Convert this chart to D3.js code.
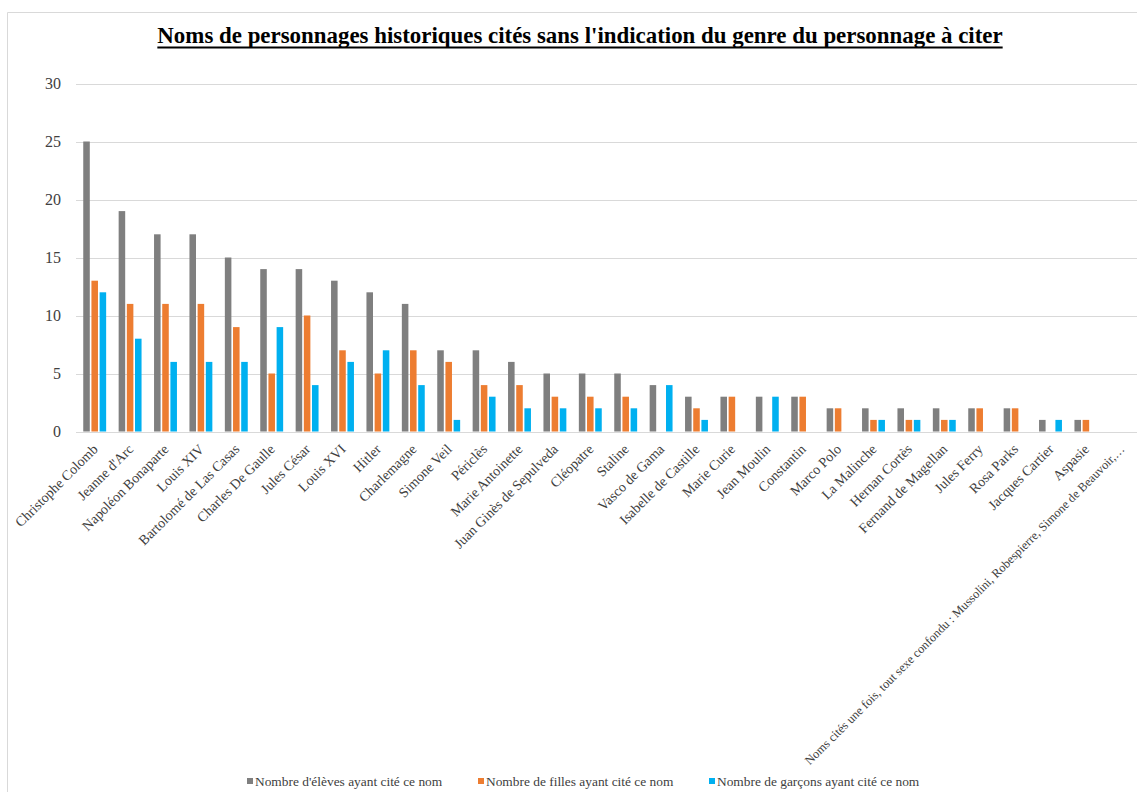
<!DOCTYPE html>
<html>
<head>
<meta charset="utf-8">
<script src="https://cdn.jsdelivr.net/npm/d3@7"></script>
<style>
  html, body { margin: 0; padding: 0; background: #fff; }
  svg { display: block; font-family: "Liberation Serif", "Times New Roman", serif; }
</style>
</head>
<body>
<svg id="chart" width="1137" height="792"></svg>
<script>
const categories = [
  "Christophe Colomb", "Jeanne d'Arc", "Napoléon Bonaparte", "Louis XIV",
  "Bartolomé de Las Casas", "Charles De Gaulle", "Jules César", "Louis XVI",
  "Hitler", "Charlemagne", "Simone Veil", "Périclès", "Marie Antoinette",
  "Juan Ginès de Sepulveda", "Cléopatre", "Staline", "Vasco de Gama",
  "Isabelle de Castille", "Marie Curie", "Jean Moulin", "Constantin",
  "Marco Polo", "La Malinche", "Hernan Cortès", "Fernand de Magellan",
  "Jules Ferry", "Rosa Parks", "Jacques Cartier", "Aspasie",
  "Noms cités une fois, tout sexe confondu : Mussolini, Robespierre, Simone de Beauvoir,…"
];
const seriesNames = [
  "Nombre d'élèves ayant cité ce nom",
  "Nombre de filles ayant cité ce nom",
  "Nombre de garçons ayant cité ce nom"
];
const eleves   = [25,19,17,17,15,14,14,13,12,11,7,7,6,5,5,5,4,3,3,3,3,2,2,2,2,2,2,1,1,0];
const filles   = [13,11,11,11,9,5,10,7,5,7,6,4,4,3,3,3,0,2,3,0,3,2,1,1,1,2,2,0,1,0];
const garcons  = [12,8,6,6,6,9,4,6,7,4,1,3,2,2,2,2,4,1,0,3,0,0,1,1,1,0,0,1,0,0];
const yTicks = [0,5,10,15,20,25,30];
const colors = ["#7f7f7f", "#ed7d31", "#00b0f0"];

const seriesValues = [eleves, filles, garcons];
const svg = d3.select("#chart");

// chart area border
svg.append("path")
  .attr("d", "M7.5,800 L7.5,12.5 L1140,12.5")
  .attr("fill", "none").attr("stroke", "#d9d9d9").attr("stroke-width", 1);

// title
const title = svg.append("text")
  .attr("x", 580).attr("y", 43)
  .attr("text-anchor", "middle")
  .attr("font-size", 22.9).attr("font-weight", "bold")
  .attr("fill", "#000")
  .text("Noms de personnages historiques cités sans l'indication du genre du personnage à citer");
const tw = title.node().getComputedTextLength();
svg.append("line")
  .attr("x1", 580 - tw / 2).attr("x2", 580 + tw / 2)
  .attr("y1", 47.5).attr("y2", 47.5)
  .attr("stroke", "#000").attr("stroke-width", 1.8);

const x0 = d3.scaleBand().domain(categories).range([77, 1139])
  .paddingInner(0.353).paddingOuter(0.1765);
const x1 = d3.scaleBand().domain(d3.range(3)).range([0, x0.bandwidth()]).paddingInner(0.2);
const y = d3.scaleLinear().domain([0, 30]).range([431.5, 83.5]);

// gridlines
svg.append("g").selectAll("line").data(yTicks).join("line")
  .attr("x1", 76).attr("x2", 1140)
  .attr("y1", d => Math.round(y(d)) + 0.5).attr("y2", d => Math.round(y(d)) + 0.5)
  .attr("stroke", "#d9d9d9").attr("stroke-width", 1);

// y axis labels
svg.append("g").selectAll("text").data(yTicks).join("text")
  .attr("x", 61).attr("y", d => y(d) + 5.5)
  .attr("text-anchor", "end").attr("font-size", 16).attr("fill", "#404040")
  .text(d => d);

// bars
const groups = svg.append("g").selectAll("g").data(categories).join("g")
  .attr("transform", d => `translate(${x0(d)},0)`);
groups.selectAll("rect")
  .data((d, i) => seriesValues.map((s, k) => ({ k, v: s[i] })))
  .join("rect")
  .attr("x", d => x1(d.k))
  .attr("width", x1.bandwidth())
  .attr("y", d => y(d.v))
  .attr("height", d => y(0) - y(d.v))
  .attr("fill", d => colors[d.k]);

// x labels
svg.append("g").selectAll("text").data(categories).join("text")
  .attr("transform", d => `translate(${x0(d) + x0.bandwidth() / 2 + 4},450) rotate(-45)`)
  .attr("text-anchor", "end")
  .attr("font-size", (d, i) => i === categories.length - 1 ? 12.4 : 14)
  .attr("fill", "#404040")
  .text(d => d);

// legend
const legendX = [247, 478, 709];
const leg = svg.append("g").selectAll("g").data(seriesNames).join("g")
  .attr("transform", (d, i) => `translate(${legendX[i]},0)`);
leg.append("rect").attr("x", 0).attr("y", 778).attr("width", 6).attr("height", 6)
  .attr("fill", (d, i) => colors[i]);
leg.append("text").attr("x", 8).attr("y", 786)
  .attr("font-size", 13.4).attr("fill", "#404040").text(d => d);
</script>
</body>
</html>
